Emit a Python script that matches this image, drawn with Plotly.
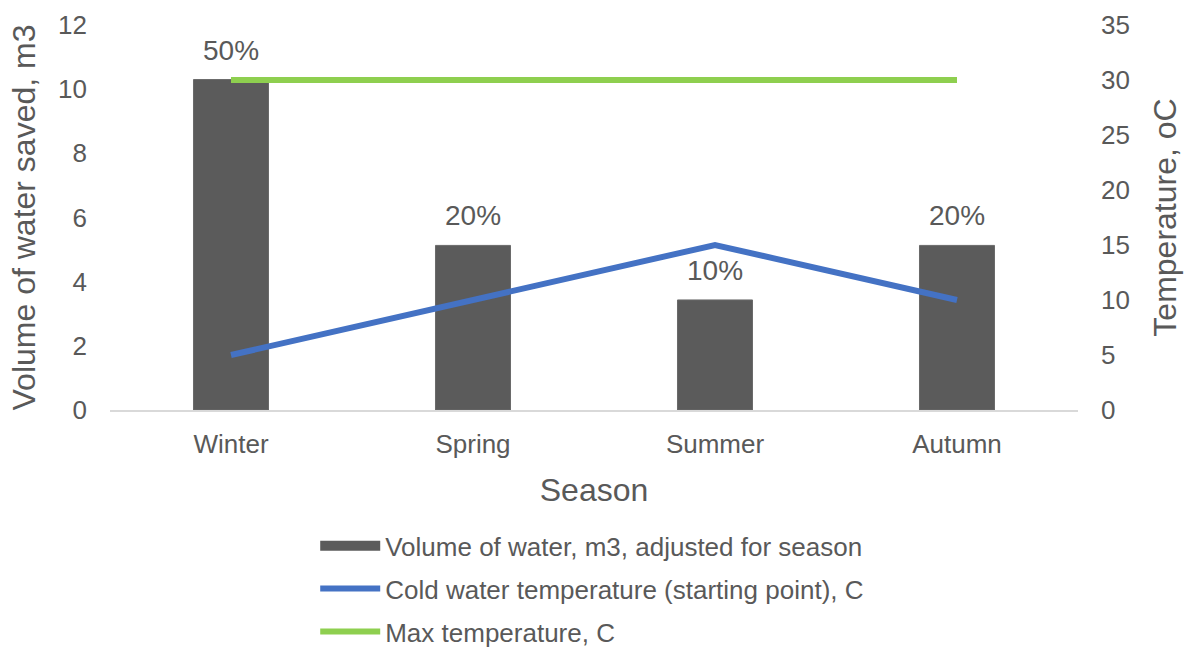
import plotly.graph_objects as go

seasons = ["Winter", "Spring", "Summer", "Autumn"]
volume = [10.3, 5.13, 3.43, 5.13]
volume_labels = ["50%", "20%", "10%", "20%"]
cold_temp = [5, 10, 15, 10]
max_temp = [30, 30, 30, 30]

TXT = "#595959"
FONT = "Liberation Sans, Arial, sans-serif"
BAR = "#5b5b5b"

fig = go.Figure()
fig.add_trace(go.Bar(
    x=seasons, y=volume, name="Volume of water, m3, adjusted for season",
    marker=dict(color=BAR, line=dict(color="#6a6a6a", width=1)),
    width=0.31, showlegend=False, legendgroup="a",
))
# legend entry for the bars (wide swatch like the original)
fig.add_trace(go.Scatter(
    x=[None], y=[None], name="Volume of water, m3, adjusted for season",
    mode="lines", line=dict(color=BAR, width=13), legendgroup="a",
))
fig.add_trace(go.Scatter(
    x=seasons, y=cold_temp, name="Cold water temperature (starting point), C",
    mode="lines", line=dict(color="#4472C4", width=6), yaxis="y2",
    legendgroup="b",
))
fig.add_trace(go.Scatter(
    x=seasons, y=max_temp, name="Max temperature, C",
    mode="lines", line=dict(color="#8ECF4F", width=6), yaxis="y2",
    legendgroup="c",
))

for s, v, lab in zip(seasons, volume, volume_labels):
    fig.add_annotation(x=s, y=v, xref="x", yref="y", text=lab, showarrow=False,
                       yanchor="bottom", yshift=12,
                       font=dict(size=28, color=TXT, family=FONT))

fig.update_layout(
    width=1190, height=650,
    margin=dict(l=110, r=112, t=25, b=240, autoexpand=False),
    plot_bgcolor="white", paper_bgcolor="white",
    font=dict(family=FONT, color=TXT, size=26),
    xaxis=dict(
        showgrid=False, showline=True, linecolor="#d9d9d9", linewidth=2,
        tickfont=dict(size=26, color=TXT), ticklabelstandoff=10,
        title=dict(text="Season", font=dict(size=32, color=TXT), standoff=20),
    ),
    yaxis=dict(
        range=[0, 12], dtick=2, showgrid=False, zeroline=False,
        tickfont=dict(size=26, color=TXT), ticklabelstandoff=22,
        title=dict(text="Volume of water saved, m3", font=dict(size=32, color=TXT), standoff=12),
    ),
    yaxis2=dict(
        range=[0, 35], dtick=5, overlaying="y", side="right", showgrid=False,
        zeroline=False, tickfont=dict(size=26, color=TXT), ticklabelstandoff=22,
        title=dict(text="Temperature, oC", font=dict(size=32, color=TXT), standoff=24),
    ),
    legend=dict(
        orientation="v", x=0.212, y=-0.292, xanchor="left", yanchor="top",
        font=dict(size=26, color=TXT, family=FONT), tracegroupgap=6,
        itemwidth=60, bgcolor="rgba(0,0,0,0)",
    ),
    showlegend=True,
)

fig.write_html("out.html")
